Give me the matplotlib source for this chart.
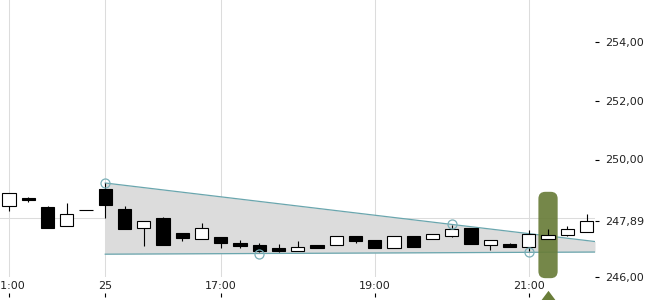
import matplotlib
matplotlib.use('Agg')
import matplotlib.pyplot as plt
from matplotlib.patches import Rectangle, FancyBboxPatch
from matplotlib.transforms import blended_transform_factory

# ---- data (15-minute candles) ----
opens  = [248.43, 248.70, 248.37, 247.75, 248.28, 248.99, 248.31, 247.66, 248.00, 247.49,
          247.31, 247.36, 247.16, 247.08, 247.00, 246.88, 247.10, 247.08, 247.38, 247.25,
          246.98, 247.39, 247.31, 247.40, 247.68, 247.10, 247.13, 247.01, 247.28, 247.42,
          247.54]
highs  = [248.85, 248.73, 248.42, 248.52, 248.28, 249.20, 248.42, 247.90, 248.04, 247.49,
          247.83, 247.36, 247.26, 247.15, 247.12, 247.21, 247.10, 247.38, 247.38, 247.25,
          247.38, 247.39, 247.45, 247.78, 247.68, 247.25, 247.16, 247.60, 247.64, 247.74,
          248.14]
lows   = [248.26, 248.55, 247.68, 247.75, 248.28, 248.01, 247.65, 247.07, 247.10, 247.23,
          247.31, 247.00, 247.00, 246.84, 246.84, 246.88, 247.00, 247.08, 247.15, 246.98,
          246.98, 247.03, 247.31, 247.36, 247.14, 246.92, 247.03, 246.89, 247.28, 247.40,
          247.54]
closes = [248.85, 248.63, 247.68, 248.15, 248.28, 248.46, 247.65, 247.90, 247.10, 247.34,
          247.66, 247.16, 247.06, 246.88, 246.90, 247.02, 247.00, 247.38, 247.21, 246.98,
          247.38, 247.03, 247.45, 247.64, 247.14, 247.25, 247.03, 247.45, 247.44, 247.62,
          247.89]

x_tick_idx = [0, 5, 11, 19, 27]
x_tick_labels = ['21:00', '25', '17:00', '19:00', '21:00']
y_label_vals = [246.00, 247.89, 250.00, 252.00, 254.00]
y_grid_vals = [246, 248, 250, 252, 254]

upper_anchor_x = [5, 23]
upper_anchor_y = [249.20, 247.79]
lower_anchor_x = [13, 27]
lower_anchor_y = [246.80, 246.84]

highlight_idx = 28
highlight_low, highlight_high = 245.96, 248.90

# ---- figure ----
fig = plt.figure(figsize=(6.5, 3), dpi=100)
ax = fig.add_axes([0, 23 / 300, 595 / 650, 277 / 300])
xlim = (-0.4675, 30.44)
ylim = (246.0, 246.0 + 277 / 29.375)
ax.set_xlim(*xlim)
ax.set_ylim(*ylim)
for s in ax.spines.values():
    s.set_visible(False)

# trend channel
x0 = upper_anchor_x[0]
xe = xlim[1]
su = (upper_anchor_y[1] - upper_anchor_y[0]) / (upper_anchor_x[1] - upper_anchor_x[0])
sl = (lower_anchor_y[1] - lower_anchor_y[0]) / (lower_anchor_x[1] - lower_anchor_x[0])
xs = [x0, xe]
up = [upper_anchor_y[0] + su * (x - upper_anchor_x[0]) for x in xs]
lo = [lower_anchor_y[0] + sl * (x - lower_anchor_x[0]) for x in xs]
ax.fill_between(xs, lo, up, color='#dcdcdc', lw=0, zorder=1)
line_col = '#6aa6ae'
ax.plot(xs, up, color=line_col, lw=0.9, zorder=2)
ax.plot(xs, lo, color=line_col, lw=0.9, zorder=2)
ax.plot(upper_anchor_x + lower_anchor_x, upper_anchor_y + lower_anchor_y, 'o',
        mfc='none', mec='#7ab0b8', ms=6.5, mew=0.9, zorder=5, clip_on=False)

# highlight
green = '#697d39'
hb = FancyBboxPatch((highlight_idx - 0.5, highlight_low), 1.0, highlight_high - highlight_low,
                    boxstyle='round,pad=0,rounding_size=0.36', mutation_aspect=0.654,
                    fc=green, ec='none', alpha=0.92, zorder=2.5, clip_on=False)
ax.add_patch(hb)
tr = blended_transform_factory(ax.transData, ax.transAxes)
ax.plot([highlight_idx], [-0.071], transform=tr,
        marker=[(0, 0.667), (-1, -0.667), (1, -0.667)], ms=14.4,
        color=green, mec='none', clip_on=False, zorder=5)

# candles
w = 0.68
for i, (o, h, l, c) in enumerate(zip(opens, highs, lows, closes)):
    ax.vlines(i, l, h, color='black', lw=0.8, zorder=3)
    fc = 'white' if c >= o else 'black'
    ax.add_patch(Rectangle((i - w / 2, min(o, c)), w, abs(c - o),
                           fc=fc, ec='black', lw=0.8, zorder=4))

# grid & ticks
grid_col = '#dcdcdc'
ax.set_xticks(x_tick_idx)
ax.set_xticklabels(x_tick_labels)
ax.xaxis.grid(True, color=grid_col, lw=0.75, zorder=0)
ax.tick_params(axis='x', length=0, pad=3, labelsize=8, labelcolor='#222222')

ax.yaxis.tick_right()
ax.set_yticks(y_label_vals)
ax.set_yticklabels([f'{v:.2f}'.replace('.', ',') for v in y_label_vals])
ax.set_yticks(y_grid_vals, minor=True)
ax.yaxis.grid(False, which='major')
ax.yaxis.grid(True, which='minor', color=grid_col, lw=0.75, zorder=0)
ax.tick_params(axis='y', which='major', length=3, width=0.8, pad=4, labelsize=8,
               labelcolor='#222222')
ax.tick_params(axis='y', which='minor', length=0)
ax.set_axisbelow(True)

sec = ax.secondary_xaxis(-16 / 277)
sec.set_xticks(x_tick_idx)
sec.tick_params(length=3, width=0.8, labelbottom=False, direction='out')
for s in sec.spines.values():
    s.set_visible(False)

fig.savefig('out.png', dpi=100)
